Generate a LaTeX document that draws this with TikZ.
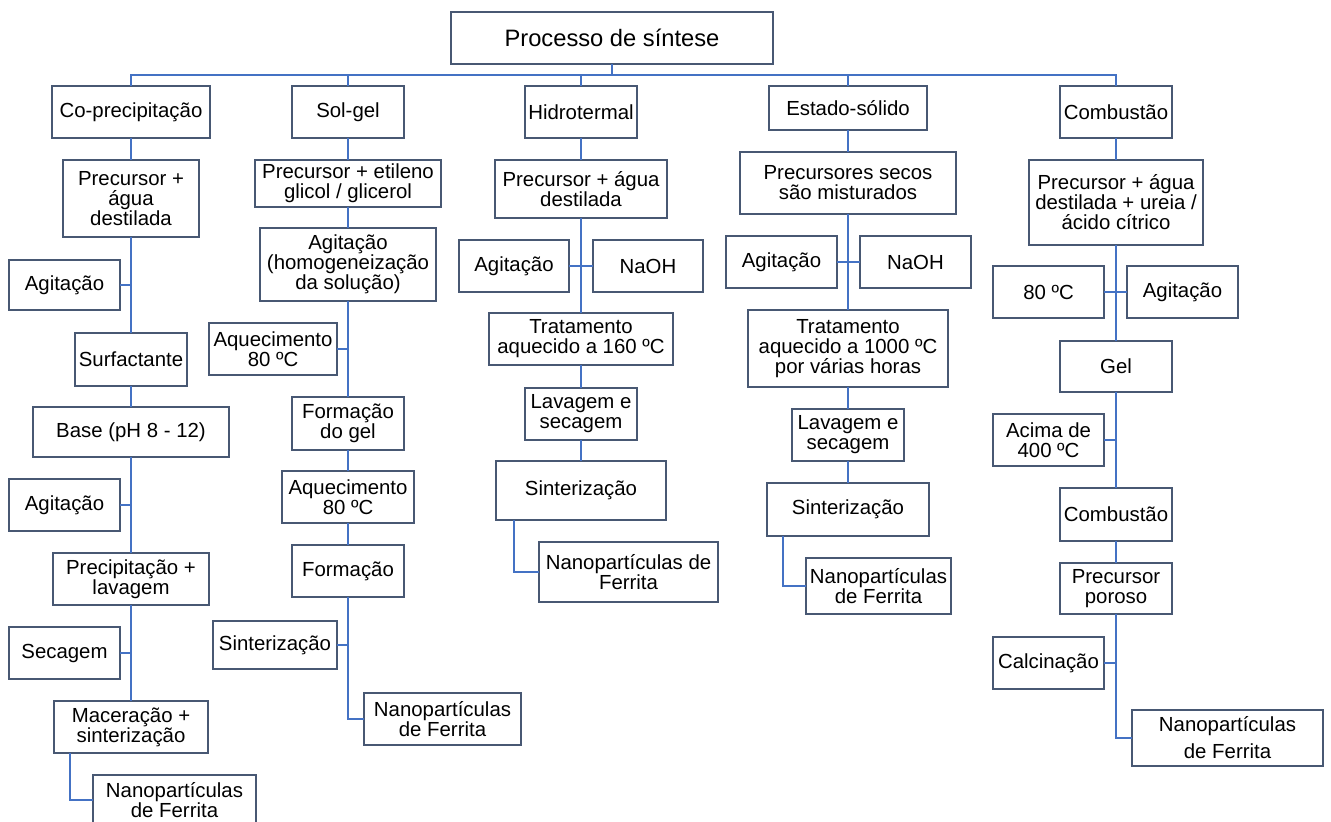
\documentclass[tikz,border=0pt]{standalone}
\usepackage{fontspec}
\setmainfont{Liberation Sans}
\usetikzlibrary{shapes,arrows,positioning}
\definecolor{boxline}{RGB}{72,88,115}
\definecolor{conline}{RGB}{68,114,196}

\begin{document}
\begin{tikzpicture}[x=0.02cm, y=-0.02cm]
  \tikzstyle{box} = [rectangle, draw=boxline, line width=0.04cm, text centered, align=center, inner sep=2pt, outer sep=0pt, fill=white, font=\fontsize{11.6}{11.4}\selectfont]
  \tikzstyle{line} = [draw=conline, line width=0.04cm]
  \useasboundingbox (0,0) rectangle (1331,821);
  % Place nodes
  \node [box, minimum width=6.44cm, minimum height=1.04cm, font=\fontsize{13.5}{14}\selectfont] (sintese) at (612,38) {Processo de síntese};
  \coordinate (bus) at (612,75);
  \node [box, minimum width=3.16cm, minimum height=1.04cm] (copre) at (131,112) {Co-precipitação};
  \node [box, minimum width=2.24cm, minimum height=1.04cm] (solgel) at (348,112) {Sol-gel};
  \node [box, minimum width=2.24cm, minimum height=1.04cm] (hidro) at (581,112) {Hidrotermal};
  \node [box, minimum width=3.16cm, minimum height=0.88cm] (estado) at (848,108) {Estado-sólido};
  \node [box, minimum width=2.24cm, minimum height=1.04cm] (comb) at (1116,112) {Combustão};

  % Co-precipitacao
  \node [box, minimum width=2.72cm, minimum height=1.54cm] (cp-prec) at (131,198.5) {Precursor +\\água\\destilada};
  \node [box, minimum width=2.22cm, minimum height=1.0cm] (cp-agit1) at (64.5,285) {Agitação};
  \node [box, minimum width=2.24cm, minimum height=1.06cm] (cp-surf) at (131,359.5) {Surfactante};
  \node [box, minimum width=3.92cm, minimum height=1.0cm] (cp-base) at (131,432) {Base (pH 8 - 12)};
  \node [box, minimum width=2.22cm, minimum height=1.04cm] (cp-agit2) at (64.5,505) {Agitação};
  \node [box, minimum width=3.12cm, minimum height=1.04cm] (cp-lav) at (131,579) {Precipitação +\\lavagem};
  \node [box, minimum width=2.22cm, minimum height=1.04cm] (cp-sec) at (64.5,653) {Secagem};
  \node [box, minimum width=3.08cm, minimum height=1.04cm] (cp-mac) at (131,727) {Maceração +\\sinterização};
  \node [box, minimum width=3.26cm, minimum height=1.0cm] (cp-nano) at (174.5,800) {Nanopartículas\\de Ferrita};

  % Sol-gel
  \node [box, minimum width=3.72cm, minimum height=0.94cm] (sg-prec) at (348,183.5) {Precursor + etileno\\glicol / glicerol};
  \node [box, minimum width=3.52cm, minimum height=1.46cm] (sg-agit) at (348,264.5) {Agitação\\(homogeneização\\da solução)};
  \node [box, minimum width=2.56cm, minimum height=1.04cm] (sg-aq1) at (273,349) {Aquecimento\\80 ºC};
  \node [box, minimum width=2.24cm, minimum height=1.06cm] (sg-gel) at (348,423.5) {Formação\\do gel};
  \node [box, minimum width=2.64cm, minimum height=1.04cm] (sg-aq2) at (348,497) {Aquecimento\\80 ºC};
  \node [box, minimum width=2.24cm, minimum height=1.04cm] (sg-form) at (348,571) {Formação};
  \node [box, minimum width=2.48cm, minimum height=0.96cm] (sg-sint) at (275,645) {Sinterização};
  \node [box, minimum width=3.14cm, minimum height=1.04cm] (sg-nano) at (442.5,719) {Nanopartículas\\de Ferrita};

  % Hidrotermal
  \node [box, minimum width=3.44cm, minimum height=1.16cm] (h-prec) at (581,189) {Precursor + água\\destilada};
  \node [box, minimum width=2.2cm, minimum height=1.04cm] (h-agit) at (514,266) {Agitação};
  \node [box, minimum width=2.2cm, minimum height=1.04cm] (h-naoh) at (648,266) {NaOH};
  \node [box, minimum width=3.68cm, minimum height=1.04cm] (h-trat) at (581,339) {Tratamento\\aquecido a 160 ºC};
  \node [box, minimum width=2.24cm, minimum height=1.04cm] (h-lav) at (581,414) {Lavagem e\\secagem};
  \node [box, minimum width=3.4cm, minimum height=1.18cm] (h-sint) at (581,490.5) {Sinterização};
  \node [box, minimum width=3.58cm, minimum height=1.2cm] (h-nano) at (628.5,572) {Nanopartículas de\\Ferrita};

  % Estado-solido
  \node [box, minimum width=4.32cm, minimum height=1.24cm] (e-prec) at (848,183) {Precursores secos\\são misturados};
  \node [box, minimum width=2.22cm, minimum height=1.04cm] (e-agit) at (781.5,262) {Agitação};
  \node [box, minimum width=2.22cm, minimum height=1.04cm] (e-naoh) at (915.5,262) {NaOH};
  \node [box, minimum width=4.0cm, minimum height=1.54cm] (e-trat) at (848,348.5) {Tratamento\\aquecido a 1000 ºC\\por várias horas};
  \node [box, minimum width=2.24cm, minimum height=1.04cm] (e-lav) at (848,435) {Lavagem e\\secagem};
  \node [box, minimum width=3.24cm, minimum height=1.06cm] (e-sint) at (848,509.5) {Sinterização};
  \node [box, minimum width=2.86cm, minimum height=1.12cm] (e-nano) at (878.5,586) {Nanopartículas\\de Ferrita};

  % Combustao
  \node [box, minimum width=3.48cm, minimum height=1.7cm] (c-prec) at (1116,202.5) {Precursor + água\\destilada + ureia /\\ácido cítrico};
  \node [box, minimum width=2.22cm, minimum height=1.04cm] (c-temp) at (1048.5,292) {80 ºC};
  \node [box, minimum width=2.22cm, minimum height=1.04cm] (c-agit) at (1182.5,292) {Agitação};
  \node [box, minimum width=2.24cm, minimum height=1.02cm] (c-gel) at (1116,366.5) {Gel};
  \node [box, minimum width=2.22cm, minimum height=1.04cm] (c-acima) at (1048.5,440) {Acima de\\400 ºC};
  \node [box, minimum width=2.24cm, minimum height=1.06cm] (c-comb) at (1116,514.5) {Combustão};
  \node [box, minimum width=2.24cm, minimum height=1.02cm] (c-poro) at (1116,588.5) {Precursor\\poroso};
  \node [box, minimum width=2.22cm, minimum height=1.04cm] (c-calc) at (1048.5,663) {Calcinação};
  \node [box, minimum width=3.82cm, minimum height=1.12cm] (c-nano) at (1227.5,738) {Nanopartículas\\[0.14cm]de Ferrita};

  % Connectors
  \path [line] (sintese) -- (bus);
  \path [line] (copre) |- (bus) -| (comb);
  \path [line] (solgel) -- (solgel |- bus);
  \path [line] (hidro) -- (hidro |- bus);
  \path [line] (estado) -- (estado |- bus);

  \path [line] (copre) -- (cp-prec);
  \path [line] (cp-prec) -- (cp-surf);
  \path [line] (cp-agit1) -- (cp-agit1 -| cp-prec);
  \path [line] (cp-surf) -- (cp-base);
  \path [line] (cp-base) -- (cp-lav);
  \path [line] (cp-agit2) -- (cp-agit2 -| cp-base);
  \path [line] (cp-lav) -- (cp-mac);
  \path [line] (cp-sec) -- (cp-sec -| cp-lav);
  \path [line] ([xshift=0.32cm]cp-mac.south west) |- (cp-nano);

  \path [line] (solgel) -- (sg-prec);
  \path [line] (sg-prec) -- (sg-agit);
  \path [line] (sg-agit) -- (sg-gel);
  \path [line] (sg-aq1) -- (sg-aq1 -| sg-agit);
  \path [line] (sg-gel) -- (sg-aq2);
  \path [line] (sg-aq2) -- (sg-form);
  \path [line] (sg-form) |- (sg-nano);
  \path [line] (sg-sint) -- (sg-sint -| sg-form);

  \path [line] (hidro) -- (h-prec);
  \path [line] (h-prec) -- (h-trat);
  \path [line] (h-agit) -- (h-naoh);
  \path [line] (h-trat) -- (h-lav);
  \path [line] (h-lav) -- (h-sint);
  \path [line] ([xshift=0.36cm]h-sint.south west) |- (h-nano);

  \path [line] (estado) -- (e-prec);
  \path [line] (e-prec) -- (e-trat);
  \path [line] (e-agit) -- (e-naoh);
  \path [line] (e-trat) -- (e-lav);
  \path [line] (e-lav) -- (e-sint);
  \path [line] ([xshift=0.32cm]e-sint.south west) |- (e-nano);

  \path [line] (comb) -- (c-prec);
  \path [line] (c-prec) -- (c-gel);
  \path [line] (c-temp) -- (c-agit);
  \path [line] (c-gel) -- (c-comb);
  \path [line] (c-acima) -- (c-acima -| c-gel);
  \path [line] (c-comb) -- (c-poro);
  \path [line] (c-poro) |- (c-nano);
  \path [line] (c-calc) -- (c-calc -| c-poro);
\end{tikzpicture}
\end{document}
